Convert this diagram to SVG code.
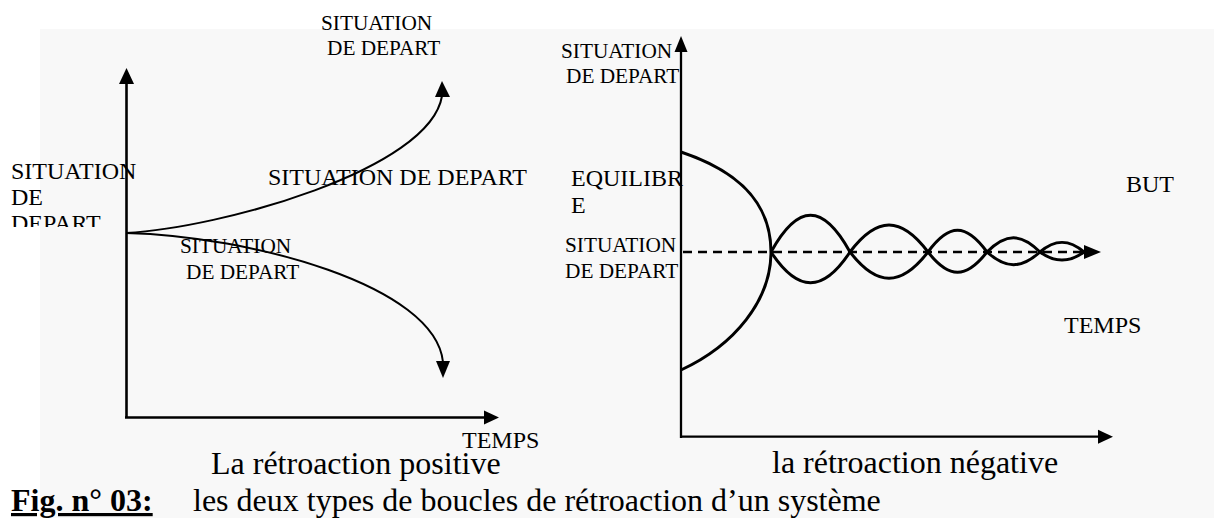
<svg xmlns="http://www.w3.org/2000/svg" width="1214" height="518" viewBox="0 0 1214 518">
<style>
text{font-family:"Liberation Serif","Times New Roman",serif;fill:#000}
.s8{font-size:21.3px}
.s9{font-size:24px}
.cap{font-size:32px}
.ax{stroke:#000;stroke-width:2.6;fill:none}
.cv{stroke:#000;stroke-width:2;fill:none}
.cv3{stroke:#000;stroke-width:3;fill:none;stroke-linejoin:round}
.ah{fill:#000}
</style>
<defs>
<clipPath id="clipLeft"><rect x="0" y="0" width="200" height="227"/></clipPath>
</defs>
<rect x="40" y="29" width="1174" height="489" fill="#f8f8f8"/>

<g id="connectors">
<!-- left plot axes -->
<line class="ax" x1="126.5" y1="418" x2="126.5" y2="82"/>
<polygon class="ah" points="126.5,68 119,84 134,84"/>
<line class="ax" x1="125" y1="417.5" x2="486" y2="417.5"/>
<polygon class="ah" points="499,417.5 484,410.5 484,424.5"/>
<!-- left curves -->
<path class="cv" d="M126,233 C220,228 430,170 442,96"/>
<polygon class="ah" points="442,81 435,97 450,97"/>
<path class="cv" d="M126,233 C250,236 435,285 443,362"/>
<polygon class="ah" points="443,378 436,361 450,361"/>
<!-- right plot axes -->
<line class="ax" x1="681" y1="438" x2="681" y2="50" style="stroke-width:2.3"/>
<polygon class="ah" points="681,36 674.5,52 687.5,52"/>
<line class="ax" x1="680" y1="436.7" x2="1100" y2="436.7" style="stroke-width:2.3"/>
<polygon class="ah" points="1113,436.7 1098,429.7 1098,443.7"/>
<!-- dashed target line -->
<line x1="683" y1="252" x2="1086" y2="252" stroke="#000" stroke-width="2.6" stroke-dasharray="9,6"/>
<polygon class="ah" points="1101,252 1084,245 1084,259"/>
<!-- envelope -->
<path class="cv3" d="M681,152 C735,170 771,200 771,252 C771,300 735,345 681,370"/>
<!-- oscillations upper -->
<path class="cv3" d="M771,252 C798,203 823,203 850,252 C877,216 901,216 928,252 C949,223 966,223 987,252 C1006,233 1021,233 1040,252 C1055,239 1069,239 1084,252"/>
<!-- oscillations lower -->
<path class="cv3" d="M771,252 C798,293 823,293 850,252 C877,287 901,287 928,252 C949,279 966,279 987,252 C1006,269 1021,269 1040,252 C1055,263 1069,263 1084,252"/>
</g>

<g id="label-left">
<g clip-path="url(#clipLeft)">
<text class="s9" x="11" y="179">SITUATION</text>
<text class="s9" x="11" y="205">DE</text>
<text class="s9" x="11" y="231">DEPART</text>
</g>
</g>
<g id="label-top">
<text class="s8" x="321" y="30">SITUATION</text>
<text class="s8" x="327" y="55">DE DEPART</text>
</g>
<g id="label-middle">
<text class="s9" x="268" y="185">SITUATION DE DEPART</text>
</g>
<g id="label-low">
<text class="s8" x="180" y="253">SITUATION</text>
<text class="s8" x="186" y="279">DE DEPART</text>
</g>
<g id="label-temps-left">
<text class="s9" x="462" y="448">TEMPS</text>
</g>
<g id="caption-positive">
<text class="cap" x="211" y="474">La rétroaction positive</text>
</g>

<g id="label-right-top">
<text class="s8" x="561" y="58">SITUATION</text>
<text class="s8" x="566" y="83">DE DEPART</text>
</g>
<g id="label-equilibre">
<text class="s9" x="571" y="186">EQUILIBR</text>
<text class="s9" x="571" y="213">E</text>
</g>
<g id="label-right-depart">
<text class="s8" x="565" y="252">SITUATION</text>
<text class="s8" x="565" y="278">DE DEPART</text>
</g>
<g id="label-but">
<text class="s9" x="1126" y="192">BUT</text>
</g>
<g id="label-temps-right">
<text class="s9" x="1064" y="333">TEMPS</text>
</g>
<g id="caption-negative">
<text class="cap" x="772" y="473">la rétroaction négative</text>
</g>

<g id="figure-caption">
<text class="cap" x="11" y="511" font-weight="bold" text-decoration="underline">Fig. n° 03:</text>
<text class="cap" x="193" y="511">les deux types de boucles de rétroaction d’un système</text>
</g>
</svg>
